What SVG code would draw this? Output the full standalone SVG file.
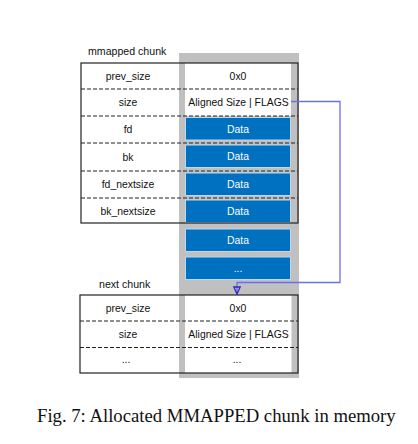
<svg xmlns="http://www.w3.org/2000/svg" width="418" height="444" viewBox="0 0 418 444">
<defs>
<style>
.lbl{font-family:"Liberation Sans",Arial,sans-serif;font-size:10.4px;fill:#111;text-anchor:middle;dominant-baseline:central}
.ttl{font-family:"Liberation Sans",Arial,sans-serif;font-size:10.6px;fill:#111}
.dlbl{font-family:"Liberation Sans",Arial,sans-serif;font-size:10.4px;fill:#fff;text-anchor:middle;dominant-baseline:central}
.cell{fill:#fff;stroke:none}
.blue{fill:#0070C0;stroke:#BDD7EE;stroke-width:1}
.dash{stroke:#222;stroke-width:1.1;stroke-dasharray:4,2;fill:none}
.border{fill:none;stroke:#222;stroke-width:1.2}
.cap{font-family:"Liberation Serif","Times New Roman",serif;font-size:18.7px;fill:#111}
</style>
<marker id="arr" markerWidth="10" markerHeight="9" refX="8.5" refY="4.5" orient="auto" markerUnits="userSpaceOnUse" viewBox="0 0 10 9">
<path d="M1.5,1.3 L1.5,7.7 L8.5,4.5 Z" fill="none" stroke="#2828C8" stroke-width="1.3"/>
</marker>
</defs>
<rect width="418" height="444" fill="#fff"/>
<rect id="memory-column" x="179" y="53" width="120" height="325" fill="#C0C0C0"/>

<g id="mmapped-chunk">
<text class="ttl" x="88" y="55">mmapped chunk</text>
<rect x="81" y="63" width="98" height="160" fill="#fff"/>
<rect class="cell" x="185" y="63" width="106" height="53"/>
<g id="row-prev_size"><text class="lbl" x="128" y="76">prev_size</text><text class="lbl" x="238" y="76">0x0</text></g>
<g id="row-size"><text class="lbl" x="128" y="102.5">size</text><text class="lbl" x="238.5" y="102.5">Aligned Size | FLAGS</text></g>
<g id="row-fd"><text class="lbl" x="128" y="129.5">fd</text><rect class="blue" x="185.5" y="117.5" width="105" height="22.5"/><text class="dlbl" x="238" y="129">Data</text></g>
<g id="row-bk"><text class="lbl" x="128" y="157">bk</text><rect class="blue" x="185.5" y="145" width="105" height="22.5"/><text class="dlbl" x="238" y="156.5">Data</text></g>
<g id="row-fd_nextsize"><text class="lbl" x="128" y="184.5">fd_nextsize</text><rect class="blue" x="185.5" y="173" width="105" height="22.5"/><text class="dlbl" x="238" y="184.5">Data</text></g>
<g id="row-bk_nextsize"><text class="lbl" x="128" y="211">bk_nextsize</text><rect class="blue" x="185.5" y="200" width="105" height="22.5"/><text class="dlbl" x="238" y="211.5">Data</text></g>
<line class="dash" x1="81" y1="89" x2="298" y2="89"/>
<line class="dash" x1="81" y1="116" x2="298" y2="116"/>
<line class="dash" x1="81" y1="143" x2="298" y2="143"/>
<line class="dash" x1="81" y1="171" x2="298" y2="171"/>
<line class="dash" x1="81" y1="198" x2="298" y2="198"/>
<rect class="border" x="81" y="63" width="217" height="160"/>
</g>

<g id="extra-data">
<rect class="blue" x="185.5" y="229" width="105" height="22.5"/><text class="dlbl" x="238" y="240.5">Data</text>
<rect class="blue" x="185.5" y="257" width="105" height="22.5"/><text class="dlbl" x="238" y="268">...</text>
</g>

<g id="next-chunk">
<text class="ttl" x="99" y="287.5">next chunk</text>
<rect x="80" y="295" width="99" height="78" fill="#fff"/>
<rect class="cell" x="185" y="295" width="106.5" height="78"/>
<text class="lbl" x="128" y="308">prev_size</text><text class="lbl" x="238" y="308">0x0</text>
<text class="lbl" x="128" y="334.5">size</text><text class="lbl" x="238.5" y="334.5">Aligned Size | FLAGS</text>
<text class="lbl" x="126" y="359">...</text><text class="lbl" x="237" y="359">...</text>
<line class="dash" x1="80" y1="321" x2="298" y2="321"/>
<line class="dash" x1="80" y1="347.5" x2="298" y2="347.5"/>
<rect class="border" x="80" y="295" width="218" height="78"/>
</g>

<g id="connectors">
<path d="M291,101.5 H340 V282.5 H237 V294" fill="none" stroke="#6E6EE6" stroke-width="1.3" marker-end="url(#arr)"/>
</g>

<text class="cap" x="37" y="421.5">Fig. 7: Allocated MMAPPED chunk in memory</text>
</svg>
